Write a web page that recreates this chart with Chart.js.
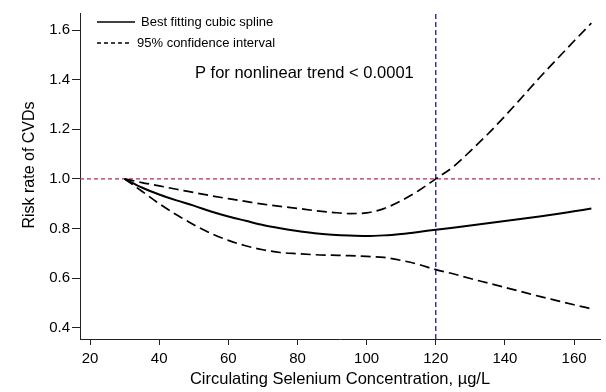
<!DOCTYPE html>
<html><head><meta charset="utf-8">
<script src="https://cdn.jsdelivr.net/npm/chart.js@4.4.1/dist/chart.umd.min.js"></script>
<style>html,body{margin:0;padding:0;background:#fff}#wrap{width:606px;height:392px}</style>
</head><body><div id="wrap"><canvas id="c" width="606" height="392"></canvas></div>
<script>
const selenium = [30,35,40,45,50,55,60,65,70,75,80,85,90,95,100,105,110,115,120,125,130,135,140,145,150,155,160,165];
const splineRR = [1.0,0.965,0.937,0.913,0.892,0.868,0.848,0.831,0.814,0.801,0.790,0.781,0.775,0.771,0.769,0.772,0.778,0.786,0.795,0.803,0.812,0.821,0.830,0.839,0.848,0.858,0.869,0.880];
const upperCI = [1.0,0.985,0.972,0.958,0.945,0.932,0.920,0.909,0.898,0.889,0.881,0.872,0.865,0.860,0.863,0.880,0.912,0.952,1.0,1.048,1.112,1.180,1.253,1.330,1.408,1.482,1.556,1.628];
const lowerCI = [1.0,0.950,0.900,0.855,0.815,0.780,0.752,0.730,0.714,0.703,0.698,0.694,0.692,0.690,0.687,0.683,0.671,0.655,0.634,0.617,0.598,0.580,0.562,0.544,0.526,0.509,0.492,0.476];
const xTicks = [20,40,60,80,100,120,140,160];
const yTicks = [0.4,0.6,0.8,1.0,1.2,1.4,1.6];
const refRR = 1.0;
const refSe = 120;
const xRange = [17.1, 167.5];
const yRange = [0.354, 1.669];
const seriesLabels = ['Best fitting cubic spline','95% confidence interval'];
const annotationText = 'P for nonlinear trend < 0.0001';
const yTitle = 'Risk rate of CVDs';
const xTitle = 'Circulating Selenium Concentration, µg/L';

const pts = (ys) => selenium.map((x,i)=>({x:x,y:ys[i]}));
const FONT = '"Liberation Sans", Arial, sans-serif';

const overlay = {
  id:'overlay',
  afterDraw(chart){
    const ctx = chart.ctx;
    ctx.save();
    ctx.font = '13px ' + FONT;
    ctx.fillStyle = '#000';
    ctx.textBaseline = 'middle';
    ctx.textAlign = 'left';
    const rows = [{y:22, dash:[], x1:135, tx:141},{y:43, dash:[4,3], x1:132, tx:137}];
    rows.forEach((r,i)=>{
      ctx.beginPath();
      ctx.setLineDash(r.dash);
      ctx.strokeStyle = '#000';
      ctx.lineWidth = 1.3;
      ctx.moveTo(97, r.y); ctx.lineTo(r.x1, r.y);
      ctx.stroke();
      ctx.setLineDash([]);
      ctx.fillText(seriesLabels[i], r.tx, r.y);
    });
    ctx.font = '16.5px ' + FONT;
    ctx.fillText(annotationText, 195, 73);
    // y-axis title
    ctx.translate(30, 165);
    ctx.rotate(-Math.PI/2);
    ctx.textAlign = 'center';
    ctx.font = '16px ' + FONT;
    ctx.fillText(yTitle, 0, 0);
    ctx.restore();
  }
};

new Chart(document.getElementById('c'), {
  type:'line',
  data:{
    datasets:[
      {label:'ref-h', data:[{x:xRange[0],y:refRR},{x:xRange[1],y:refRR}], borderColor:'#b8285a', borderWidth:1.4, borderDash:[4,3], pointRadius:0, order:5},
      {label:'ref-v', data:[{x:refSe,y:yRange[0]},{x:refSe,y:yRange[1]}], borderColor:'#1c1c8c', borderWidth:1.3, borderDash:[5,3], pointRadius:0, order:5},
      {label:seriesLabels[0], data:pts(splineRR), borderColor:'#000', borderWidth:2, pointRadius:0, cubicInterpolationMode:'monotone', order:1},
      {label:seriesLabels[1], data:pts(upperCI), borderColor:'#000', borderWidth:1.7, borderDash:[10,5], pointRadius:0, cubicInterpolationMode:'monotone', order:1},
      {label:seriesLabels[1]+' lower', data:pts(lowerCI), borderColor:'#000', borderWidth:1.7, borderDash:[10,5], pointRadius:0, cubicInterpolationMode:'monotone', order:1}
    ]
  },
  options:{
    responsive:false, animation:false,
    layout:{padding:{top:13,right:6,left:21,bottom:0}},
    plugins:{legend:{display:false}, tooltip:{enabled:false}},
    scales:{
      x:{type:'linear', min:xRange[0], max:xRange[1],
        afterBuildTicks:(s)=>{s.ticks = xTicks.map(v=>({value:v}));},
        afterFit:(s)=>{s.height = 53;},
        ticks:{font:{family:FONT,size:15}, color:'#000', padding:5, maxRotation:0},
        grid:{drawOnChartArea:false, drawTicks:true, tickLength:6, color:'#222'},
        border:{display:true, color:'#222', width:1},
        title:{display:true, text:xTitle, font:{family:FONT,size:16.5}, color:'#000', padding:{top:0,bottom:3}}
      },
      y:{type:'linear', min:yRange[0], max:yRange[1],
        afterBuildTicks:(s)=>{s.ticks = yTicks.map(v=>({value:v}));},
        afterFit:(s)=>{s.width = 59;},
        ticks:{font:{family:FONT,size:15}, color:'#000', padding:2, callback:(v)=>Number(v).toFixed(1)},
        grid:{drawOnChartArea:false, drawTicks:true, tickLength:8, color:'#222'},
        border:{display:true, color:'#222', width:1},
        title:{display:false}
      }
    }
  },
  plugins:[overlay]
});
</script></body></html>
